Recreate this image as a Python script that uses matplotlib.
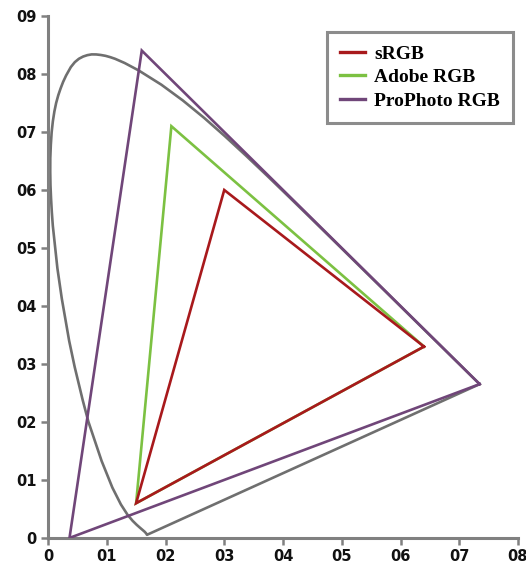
import matplotlib
matplotlib.use("Agg")
import matplotlib.pyplot as plt
from matplotlib.lines import Line2D

# Spectral locus (CIE 1931 xy), closed by the line of purples
locus_x = [0.7347, 0.7334, 0.7320, 0.7300, 0.7260, 0.7190, 0.7140, 0.7079, 0.7006, 0.6915,
           0.6801, 0.6658, 0.6482, 0.6270, 0.6029, 0.5752, 0.5448, 0.5125, 0.4788, 0.4441,
           0.4087, 0.3731, 0.3373, 0.3016, 0.2658, 0.2296, 0.1929, 0.1547, 0.1304, 0.1142,
           0.1061, 0.0980, 0.0899, 0.0821, 0.0743, 0.0670, 0.0598, 0.0525, 0.0456, 0.0389,
           0.0308, 0.0257, 0.0214, 0.0175, 0.0139, 0.0109, 0.0083, 0.0062, 0.0048, 0.0039,
           0.0038, 0.0042, 0.0052, 0.0065, 0.0082, 0.0160, 0.0235, 0.0360, 0.0454, 0.0590,
           0.0687, 0.0913, 0.1096, 0.1241, 0.1355, 0.1440, 0.1510, 0.1566, 0.1611, 0.1644,
           0.1670, 0.1685, 0.7347]
locus_y = [0.2653, 0.2666, 0.2680, 0.2700, 0.2740, 0.2809, 0.2859, 0.2920, 0.2993, 0.3083,
           0.3197, 0.3340, 0.3514, 0.3725, 0.3965, 0.4242, 0.4544, 0.4866, 0.5202, 0.5547,
           0.5896, 0.6245, 0.6589, 0.6923, 0.7243, 0.7543, 0.7816, 0.8059, 0.8190, 0.8262,
           0.8290, 0.8313, 0.8328, 0.8337, 0.8338, 0.8325, 0.8301, 0.8262, 0.8204, 0.8120,
           0.7974, 0.7863, 0.7750, 0.7634, 0.7502, 0.7356, 0.7187, 0.6994, 0.6776, 0.6548,
           0.6316, 0.6086, 0.5853, 0.5619, 0.5384, 0.4650, 0.4127, 0.3400, 0.2950, 0.2380,
           0.2007, 0.1327, 0.0868, 0.0578, 0.0399, 0.0297, 0.0227, 0.0177, 0.0138, 0.0109,
           0.0080, 0.0055, 0.2653]

srgb_x = [0.64, 0.30, 0.15, 0.64]
srgb_y = [0.33, 0.60, 0.06, 0.33]
adobe_x = [0.64, 0.21, 0.15, 0.64]
adobe_y = [0.33, 0.71, 0.06, 0.33]
prophoto_x = [0.7347, 0.1596, 0.0366, 0.7347]
prophoto_y = [0.2653, 0.8404, 0.0001, 0.2653]

series_names = ["sRGB", "Adobe RGB", "ProPhoto RGB"]
x_ticks = [0, 0.1, 0.2, 0.3, 0.4, 0.5, 0.6, 0.7, 0.8]
x_labels = ["0", "01", "02", "03", "04", "05", "06", "07", "08"]
y_ticks = [0, 0.1, 0.2, 0.3, 0.4, 0.5, 0.6, 0.7, 0.8, 0.9]
y_labels = ["0", "01", "02", "03", "04", "05", "06", "07", "08", "09"]

c_gray = "#6f6f6f"
c_red = "#a8191c"
c_green = "#7cc142"
c_purple = "#704679"
lw = 1.9

fig = plt.figure(figsize=(5.26, 5.65), dpi=100)
ax = fig.add_axes([48/526, 27/565, 470/526, 522/565])

ax.plot(locus_x, locus_y, color=c_gray, lw=lw, solid_joinstyle="round", zorder=2)
ax.plot(prophoto_x, prophoto_y, color=c_purple, lw=lw, solid_joinstyle="miter", zorder=3)
ax.plot(adobe_x, adobe_y, color=c_green, lw=lw, solid_joinstyle="miter", zorder=4)
ax.plot(srgb_x, srgb_y, color=c_red, lw=lw, solid_joinstyle="miter", zorder=5)

ax.set_xlim(0, 0.8)
ax.set_ylim(0, 0.9)
ax.set_xticks(x_ticks)
ax.set_xticklabels(x_labels)
ax.set_yticks(y_ticks)
ax.set_yticklabels(y_labels)
for s in ["top", "right"]:
    ax.spines[s].set_visible(False)
for s in ["left", "bottom"]:
    ax.spines[s].set_color("#808080")
    ax.spines[s].set_linewidth(2.2)
ax.tick_params(direction="out", length=5, width=1.8, color="#808080",
               labelsize=10.5, pad=3)
for lab in ax.get_xticklabels() + ax.get_yticklabels():
    lab.set_fontweight("bold")
    lab.set_color("#111111")

handles = [Line2D([], [], color=c, lw=2.4) for c in (c_red, c_green, c_purple)]
leg = ax.legend(handles, series_names, loc="upper right",
                bbox_to_anchor=((513 - 48) / 470, (538 - 32) / 522),
                prop={"family": "Liberation Serif", "weight": "bold", "size": 14},
                frameon=True, fancybox=False, handlelength=1.3, handletextpad=0.45,
                labelspacing=0.3, borderpad=0.68, borderaxespad=0)
leg.get_frame().set_edgecolor("#707070")
leg.get_frame().set_linewidth(2.2)

fig.savefig("out.png", dpi=100)
